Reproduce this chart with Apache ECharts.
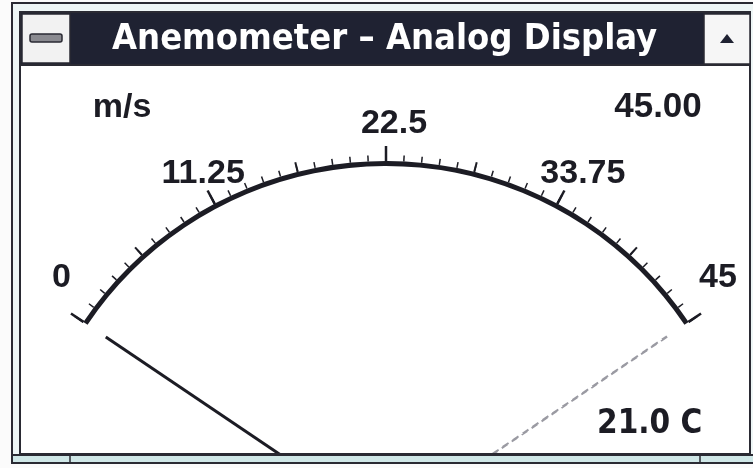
<!DOCTYPE html>
<html>
<head>
<meta charset="utf-8">
<script src="https://cdn.jsdelivr.net/npm/echarts@6/dist/echarts.min.js"></script>
<style>
  html, body { margin: 0; padding: 0; background: #fbfbfb; }
  #chart { width: 753px; height: 468px; }
</style>
</head>
<body>
<div id="chart"></div>
<script>
// scale + readings
const speedMin = 0
const speedMax = 45
const tickLabels = ['0', '11.25', '22.5', '33.75', '45']
const sideLabels = ['0', '45']
const topLabels = ['22.5']
const innerLabels = ['11.25', '33.75']
const currentSpeed = [0]
const peakSpeed = [45]
const temperature = [21.0]
const unitName = 'm/s'
const windowTitle = 'Anemometer – Analog Display'

const ink = '#1c1c24'
const numFont = '"Liberation Sans", Arial, sans-serif'
const narrowFont = '"DejaVu Sans Condensed", "Liberation Sans Narrow", sans-serif'

// every gauge shares the same angles and scale
const base = {
  type: 'gauge',
  center: [386, 526],
  radius: 365,
  startAngle: 146,
  endAngle: 34,
  min: speedMin,
  max: speedMax,
  silent: true,
  animation: false,
  progress: { show: false },
  anchor: { show: false },
  title: { show: false },
  detail: { show: false },
  pointer: { show: false },
  axisLine: { show: false, lineStyle: { width: 4, color: [[1, ink]] } },
  splitLine: { show: false, length: 15, distance: -19 },
  axisTick: { show: false },
  axisLabel: { show: false }
}

// labels are placed by their own (invisible) gauge so each group can sit like the original
function labelSeries(keep, center, radius) {
  return Object.assign({}, base, {
    center: center,
    radius: radius,
    splitNumber: tickLabels.length - 1,
    axisLine: { show: false, lineStyle: { width: 0 } },
    splitLine: { show: false, length: 0, distance: 0 },
    axisLabel: {
      show: true,
      distance: 0,
      color: ink,
      fontFamily: numFont,
      fontWeight: 'bold',
      fontSize: 34,
      formatter: v => {
        const s = tickLabels.find(t => +t === v)
        return keep.includes(s) ? s : ''
      }
    },
    data: []
  })
}

const frame = '#2a2a33'
const chart = echarts.init(document.getElementById('chart'))

chart.setOption({
  backgroundColor: '#fbfbfb',
  graphic: [
    // window frame
    { type: 'rect', shape: { x: 12, y: 3, width: 760, height: 460 },
      style: { fill: '#eef6f6', stroke: frame, lineWidth: 2 } },
    { type: 'rect', shape: { x: 20, y: 12, width: 730, height: 443 },
      style: { fill: '#ffffff', stroke: frame, lineWidth: 2 } },
    { type: 'rect', shape: { x: 21, y: 13, width: 729, height: 51 },
      style: { fill: '#1f2232' } },
    // control box
    { type: 'rect', shape: { x: 22, y: 14, width: 48, height: 49 },
      style: { fill: '#f2f2f2', stroke: frame, lineWidth: 1.5 } },
    { type: 'rect', shape: { x: 30, y: 34, width: 32, height: 8, r: 2 },
      style: { fill: '#8a8a90', stroke: frame, lineWidth: 1.5 } },
    // scroll button
    { type: 'rect', shape: { x: 704, y: 14, width: 46, height: 50 },
      style: { fill: '#f6f6f6', stroke: frame, lineWidth: 1.5 } },
    { type: 'polygon', shape: { points: [[720, 43], [734, 43], [727, 34]] },
      style: { fill: '#1f2232' } },
    { type: 'line', shape: { x1: 20, y1: 65, x2: 750, y2: 65 },
      style: { stroke: frame, lineWidth: 2 } },
    { type: 'text', x: 112, y: 22,
      style: { text: windowTitle, fill: '#ffffff', font: 'bold 36px ' + narrowFont } },
    { type: 'text', x: 597, y: 408,
      style: { text: temperature[0].toFixed(1) + ' C', fill: ink, font: 'bold 33px ' + narrowFont } },
    // bottom edge, drawn over the needles
    { type: 'rect', z: 100, shape: { x: 0, y: 456, width: 753, height: 12 }, style: { fill: '#fbfbfb' } },
    { type: 'rect', z: 101, shape: { x: 12, y: 455, width: 760, height: 8 },
      style: { fill: '#cfe7e7', stroke: frame, lineWidth: 2 } },
    { type: 'line', z: 102, shape: { x1: 20, y1: 454, x2: 750, y2: 454 },
      style: { stroke: frame, lineWidth: 2 } },
    { type: 'line', z: 102, shape: { x1: 70, y1: 455, x2: 70, y2: 463 }, style: { stroke: frame, lineWidth: 1.5 } },
    { type: 'line', z: 102, shape: { x1: 700, y1: 455, x2: 700, y2: 463 }, style: { stroke: frame, lineWidth: 1.5 } }
  ],
  series: [
    // arc, major and minor ticks
    Object.assign({}, base, {
      splitNumber: 4,
      axisLine: { show: true, lineStyle: { width: 5, color: [[1, ink]] } },
      splitLine: { show: true, length: 15, distance: -20, lineStyle: { color: ink, width: 2.5 } },
      axisTick: { show: true, splitNumber: 10, length: 6, distance: -11, lineStyle: { color: ink, width: 1.5 } },
      data: []
    }),
    // half-way ticks
    Object.assign({}, base, {
      splitNumber: 8,
      axisLine: { show: false, lineStyle: { width: 5 } },
      splitLine: { show: true, length: 10, distance: -15, lineStyle: { color: ink, width: 2 } },
      data: []
    }),
    labelSeries(sideLabels, [394.5, 509], 413),
    labelSeries(topLabels, [394, 526], 419),
    labelSeries(innerLabels, [393.5, 593], 494),
    // peak (dashed) needle + readout
    Object.assign({}, base, {
      pointer: { show: true, icon: 'rect', length: 338, width: 0.5 },
      itemStyle: { color: 'rgba(0,0,0,0)', borderColor: '#9a9aa2', borderWidth: 2, borderType: [7, 5] },
      detail: {
        show: true, offsetCenter: [272, -419], color: ink,
        fontFamily: numFont, fontWeight: 'bold', fontSize: 35,
        formatter: v => v.toFixed(2)
      },
      data: [{ value: peakSpeed[0] }]
    }),
    // current needle + unit
    Object.assign({}, base, {
      pointer: { show: true, icon: 'rect', length: 338, width: 3 },
      itemStyle: { color: ink },
      title: { show: true, offsetCenter: [-264, -418], color: ink,
        fontFamily: numFont, fontWeight: 'bold', fontSize: 34 },
      data: [{ value: currentSpeed[0], name: unitName }]
    })
  ]
})
</script>
</body>
</html>
